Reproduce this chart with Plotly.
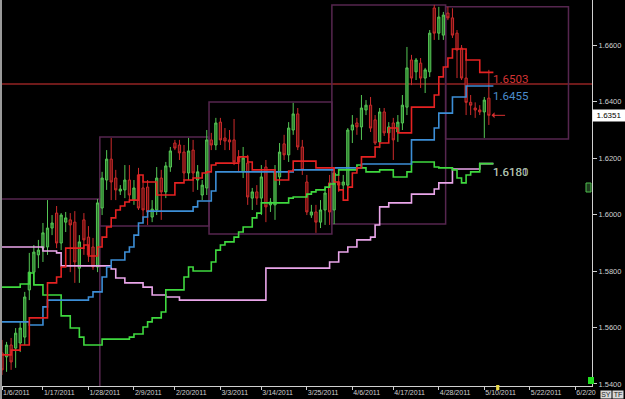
import pandas as pd
import plotly.graph_objects as go

# ---------------- data ----------------
all_days = pd.date_range("2011-01-06", "2011-06-10", freq="D")
bar_dates = [d for d in all_days if d.weekday() != 5]  # Sun-Fri daily FX bars

opens = [1.5510, 1.5496, 1.5538, 1.5527, 1.5545, 1.5566, 1.5733, 1.5796, 1.5857, 1.5881,
         1.5885, 1.5952, 1.6005, 1.5899, 1.5973, 1.5981, 1.5973, 1.5810, 1.5981, 1.5920,
         1.5885, 1.5814, 1.6023, 1.6122, 1.6196, 1.6129, 1.6083, 1.6087, 1.6122, 1.6051,
         1.6140, 1.6094, 1.6097, 1.5991, 1.6016, 1.6129, 1.6080, 1.6168, 1.6253, 1.6246,
         1.6221, 1.6147, 1.6228, 1.6122, 1.6069, 1.6094, 1.6264, 1.6246, 1.6327, 1.6271,
         1.6264, 1.6264, 1.6204, 1.6151, 1.6182, 1.6058, 1.6080, 1.6058, 1.6168, 1.6034,
         1.6034, 1.6133, 1.6250, 1.6211, 1.6299, 1.6356, 1.6239, 1.6115, 1.5998, 1.6009,
         1.5973, 1.6016, 1.6112, 1.6016, 1.6115, 1.6104, 1.6104, 1.6299, 1.6324, 1.6310,
         1.6370, 1.6387, 1.6335, 1.6257, 1.6363, 1.6289, 1.6324, 1.6292, 1.6324, 1.6380,
         1.6547, 1.6505, 1.6536, 1.6483, 1.6505, 1.6731, 1.6642, 1.6635, 1.6713, 1.6696,
         1.6642, 1.6589, 1.6483, 1.6397, 1.6377, 1.6370, 1.6363, 1.6412]
highs = [1.5556, 1.5549, 1.5563, 1.5598, 1.5620, 1.5726, 1.5864, 1.5892, 1.5910, 1.5970,
         1.6051, 1.5998, 1.6030, 1.6005, 1.6009, 1.6005, 1.6012, 1.5927, 1.6005, 1.5959,
         1.5917, 1.6055, 1.6151, 1.6228, 1.6271, 1.6158, 1.6104, 1.6175, 1.6175, 1.6122,
         1.6165, 1.6122, 1.6122, 1.6051, 1.6168, 1.6158, 1.6186, 1.6239, 1.6264, 1.6264,
         1.6246, 1.6271, 1.6264, 1.6175, 1.6122, 1.6299, 1.6289, 1.6342, 1.6342, 1.6306,
         1.6299, 1.6338, 1.6228, 1.6239, 1.6211, 1.6094, 1.6104, 1.6175, 1.6193, 1.6058,
         1.6175, 1.6253, 1.6282, 1.6327, 1.6395, 1.6377, 1.6264, 1.6140, 1.6034, 1.6034,
         1.6051, 1.6094, 1.6140, 1.6165, 1.6140, 1.6140, 1.6306, 1.6352, 1.6342, 1.6423,
         1.6405, 1.6416, 1.6352, 1.6377, 1.6377, 1.6327, 1.6342, 1.6352, 1.6423, 1.6593,
         1.6565, 1.6554, 1.6554, 1.6519, 1.6653, 1.6742, 1.6735, 1.6717, 1.6735, 1.6730,
         1.6653, 1.6600, 1.6572, 1.6423, 1.6397, 1.6387, 1.6416, 1.6512]
lows = [1.5432, 1.5443, 1.5450, 1.5457, 1.5513, 1.5538, 1.5697, 1.5751, 1.5810, 1.5832,
        1.5857, 1.5927, 1.5881, 1.5874, 1.5938, 1.5796, 1.5758, 1.5758, 1.5857, 1.5832,
        1.5804, 1.5796, 1.5998, 1.6087, 1.6051, 1.6051, 1.6069, 1.6058, 1.6051, 1.6034,
        1.6016, 1.5981, 1.5963, 1.5973, 1.5998, 1.5981, 1.6058, 1.6151, 1.6228, 1.6193,
        1.6122, 1.6122, 1.6080, 1.6087, 1.6051, 1.6069, 1.6228, 1.6228, 1.6246, 1.6228,
        1.6228, 1.6175, 1.6151, 1.6129, 1.6034, 1.6016, 1.6034, 1.5998, 1.5973, 1.6009,
        1.5981, 1.6104, 1.6193, 1.6186, 1.6282, 1.6228, 1.6140, 1.5998, 1.5988, 1.5935,
        1.5952, 1.5963, 1.5963, 1.5966, 1.6080, 1.6087, 1.6087, 1.6253, 1.6282, 1.6264,
        1.6352, 1.6292, 1.6246, 1.6235, 1.6278, 1.6271, 1.6193, 1.6257, 1.6299, 1.6352,
        1.6458, 1.6476, 1.6448, 1.6430, 1.6487, 1.6618, 1.6618, 1.6618, 1.6688, 1.6625,
        1.6483, 1.6476, 1.6352, 1.6352, 1.6342, 1.6352, 1.6271, 1.6317]
closes = [1.5450, 1.5538, 1.5478, 1.5580, 1.5598, 1.5708, 1.5796, 1.5867, 1.5874, 1.5935,
          1.5952, 1.5970, 1.5899, 1.5998, 1.5988, 1.5963, 1.5832, 1.5903, 1.5910, 1.5857,
          1.5814, 1.6041, 1.6129, 1.6196, 1.6115, 1.6087, 1.6090, 1.6122, 1.6069, 1.6094,
          1.6023, 1.6016, 1.6009, 1.6019, 1.6129, 1.6080, 1.6172, 1.6225, 1.6235, 1.6218,
          1.6147, 1.6225, 1.6147, 1.6151, 1.6104, 1.6264, 1.6246, 1.6324, 1.6264, 1.6260,
          1.6257, 1.6186, 1.6186, 1.6200, 1.6062, 1.6080, 1.6058, 1.6133, 1.6027, 1.6044,
          1.6151, 1.6221, 1.6211, 1.6306, 1.6356, 1.6239, 1.6158, 1.6009, 1.6009, 1.5973,
          1.6016, 1.6076, 1.6009, 1.6147, 1.6104, 1.6115, 1.6299, 1.6317, 1.6310, 1.6377,
          1.6387, 1.6306, 1.6253, 1.6363, 1.6289, 1.6310, 1.6264, 1.6327, 1.6387, 1.6519,
          1.6483, 1.6547, 1.6483, 1.6512, 1.6642, 1.6642, 1.6699, 1.6706, 1.6696, 1.6635,
          1.6582, 1.6483, 1.6397, 1.6387, 1.6370, 1.6363, 1.6405, 1.6351]

# step lines: bar index where a new level starts, and that level
red_at = [0, 2, 4, 6, 10, 12, 13, 14, 18, 19, 21, 22, 23, 24, 25, 26, 27, 28, 30, 31, 34, 38, 40,
          42, 44, 45, 46, 47, 52, 54, 55, 60, 63, 64, 69, 73, 74, 75, 76, 77, 78, 79, 82, 83,
          85, 87, 90, 95, 96, 97, 98, 99, 102, 105]
red_val = [1.5503, 1.5520, 1.5538, 1.5634, 1.5758, 1.5779, 1.5814, 1.5881, 1.5892, 1.5853,
           1.5885, 1.5920, 1.5956, 1.5988, 1.6016, 1.6030, 1.6044, 1.6051, 1.6140, 1.6115,
           1.6069, 1.6112, 1.6122, 1.6129, 1.6147, 1.6151, 1.6175, 1.6182, 1.6204, 1.6186,
           1.6158, 1.6122, 1.6154, 1.6189, 1.6165, 1.6115, 1.6087, 1.6051, 1.6097, 1.6147,
           1.6165, 1.6204, 1.6239, 1.6253, 1.6306, 1.6289, 1.6380, 1.6423, 1.6487, 1.6522,
           1.6554, 1.6586, 1.6547, 1.6503]
blue_at = [0, 6, 9, 10, 19, 20, 22, 23, 24, 27, 28, 29, 30, 31, 32, 42, 43, 46, 47, 64, 73, 79,
           90, 95, 96, 99, 102]
blue_val = [1.5620, 1.5609, 1.5673, 1.5697, 1.5708, 1.5726, 1.5779, 1.5814, 1.5839, 1.5867,
            1.5885, 1.5927, 1.5970, 1.5991, 1.6012, 1.6027, 1.6048, 1.6083, 1.6151, 1.6158,
            1.6165, 1.6179, 1.6264, 1.6306, 1.6359, 1.6416, 1.6455]
green_at = [0, 4, 6, 7, 9, 13, 15, 17, 18, 22, 28, 29, 31, 32, 33, 35, 36, 40, 41, 42, 46, 47,
            48, 49, 51, 52, 53, 55, 56, 57, 63, 64, 67, 68, 69, 71, 72, 73, 74, 78, 79, 80, 83,
            86, 89, 90, 95, 96, 99, 100, 101, 102, 103, 105]
green_val = [1.5743, 1.5754, 1.5793, 1.5751, 1.5715, 1.5641, 1.5598, 1.5566, 1.5538, 1.5559,
             1.5566, 1.5577, 1.5602, 1.5620, 1.5634, 1.5655, 1.5733, 1.5779, 1.5814, 1.5800,
             1.5832, 1.5874, 1.5892, 1.5903, 1.5920, 1.5938, 1.5956, 1.5988, 1.6005, 1.6041,
             1.6058, 1.6062, 1.6072, 1.6080, 1.6087, 1.6097, 1.6108, 1.6140, 1.6158, 1.6175,
             1.6165, 1.6151, 1.6158, 1.6133, 1.6151, 1.6186, 1.6168, 1.6165, 1.6158, 1.6129,
             1.6112, 1.6140, 1.6151, 1.6180]
pink_at = [0, 9, 12, 13, 24, 25, 27, 31, 33, 36, 39, 58, 72, 74, 76, 78, 81, 82, 83, 85, 90,
           95, 96, 99, 105]
pink_val = [1.5885, 1.5871, 1.5864, 1.5818, 1.5807, 1.5775, 1.5758, 1.5743, 1.5715, 1.5708,
            1.5697, 1.5810, 1.5832, 1.5867, 1.5885, 1.5910, 1.5920, 1.5963, 1.6027, 1.6041,
            1.6072, 1.6090, 1.6112, 1.6161, 1.6180]

# monthly range boxes
box_months = ["2011-01", "2011-02", "2011-03", "2011-04", "2011-05"]
box_high = [1.6055, 1.6274, 1.6398, 1.6742, 1.6735]
box_low = [1.5300, 1.5959, 1.5931, 1.5966, 1.6267]

level_line = 1.6462
last_price = 1.6351

tick_dates = ["2011-01-06", "2011-01-17", "2011-01-28", "2011-02-09", "2011-02-20", "2011-03-03",
              "2011-03-14", "2011-03-25", "2011-04-06", "2011-04-17", "2011-04-28", "2011-05-10",
              "2011-05-22", "2011-06-02"]
tick_text = ["1/6/2011", "1/17/2011", "1/28/2011", "2/9/2011", "2/20/2011", "3/3/2011",
             "3/14/2011", "3/25/2011", "4/6/2011", "4/17/2011", "4/28/2011", "5/10/2011",
             "5/22/2011", "6/2/20"]
y_ticks = [1.54, 1.56, 1.58, 1.60, 1.62, 1.64, 1.66]

# ---------------- figure ----------------
N = len(opens)
idx = list(range(N))
date_pos = {d.strftime("%Y-%m-%d"): i for i, d in enumerate(bar_dates)}
tickvals = [date_pos[d] for d in tick_dates]

fig = go.Figure()

fig.add_trace(go.Candlestick(
    x=idx, open=opens, high=highs, low=lows, close=closes,
    increasing=dict(line=dict(color="#55c655", width=1), fillcolor="#2c7a2c"),
    decreasing=dict(line=dict(color="#cc2b2b", width=1), fillcolor="#5e0f0f"),
    whiskerwidth=0, showlegend=False, hoverinfo="skip"))

def step(at, val, color):
    fig.add_trace(go.Scatter(x=at + [N], y=val + [val[-1]], mode="lines",
                             line=dict(color=color, width=1.6, shape="hv"),
                             showlegend=False, hoverinfo="skip"))

step(pink_at, pink_val, "#eaa6ea")
step(green_at, green_val, "#3fd93f")
step(blue_at, blue_val, "#3c8ed6")
step(red_at, red_val, "#e52222")

shapes = []
# monthly boxes
month_of = [d.strftime("%Y-%m") for d in bar_dates]
starts = []
for m in box_months + ["2011-06"]:
    starts.append(month_of.index(m) - 0.5 if m in month_of else -0.5)
for i, m in enumerate(box_months):
    shapes.append(dict(type="rect", xref="x", yref="y", x0=starts[i], x1=starts[i + 1],
                       y0=box_low[i], y1=box_high[i], line=dict(color="#56264f", width=1.5),
                       layer="below"))
shapes.append(dict(type="line", xref="paper", yref="y", x0=0, x1=1, y0=level_line, y1=level_line,
                   line=dict(color="#6e1a1a", width=2), layer="below"))
# left grey frame strip
shapes.append(dict(type="rect", xref="paper", yref="paper", x0=0, x1=2 / 592, y0=-0.04, y1=1,
                   line=dict(width=0), fillcolor="#9a9a9a"))
# green square at lower right of plot
shapes.append(dict(type="rect", xref="paper", yref="paper", x0=588 / 592, x1=594 / 592,
                   y0=2 / 386, y1=9 / 386, line=dict(width=0), fillcolor="#22dd22"))
# yellow current-bar marker on the time axis
shapes.append(dict(type="rect", xref="x", yref="paper", x0=N + 0.6, x1=N + 1.3,
                   y0=-4 / 386, y1=1 / 386, line=dict(width=0), fillcolor="#e8d84a"))
# small 'D' marker on the right edge
shapes.append(dict(type="rect", xref="paper", yref="paper", x0=586 / 592, x1=591 / 592,
                   y0=(386 - 192) / 386, y1=(386 - 183) / 386,
                   line=dict(color="#4fbf4f", width=1), fillcolor="#1d3a1d"))

annotations = []
lab_font = "Roboto, DejaVu Sans Mono, monospace"
annotations.append(dict(x=N - 0.4, y=red_val[-1], xref="x", yref="y", text="1.6503",
                        showarrow=False, xanchor="left", yanchor="middle", yshift=-7,
                        borderpad=0, font=dict(family=lab_font, size=11.5, color="#d43434")))
annotations.append(dict(x=N - 0.4, y=blue_val[-1], xref="x", yref="y", text="1.6455",
                        showarrow=False, xanchor="left", yanchor="middle", yshift=-10,
                        borderpad=0, font=dict(family=lab_font, size=11.5, color="#4b8dcc")))
annotations.append(dict(x=N - 0.4, y=pink_val[-1], xref="x", yref="y", text="1.6181",
                        showarrow=False, xanchor="left", yanchor="middle", yshift=-8,
                        borderpad=0, font=dict(family=lab_font, size=11.5, color="#c99ac9")))
annotations.append(dict(x=N - 0.2, y=green_val[-1], xref="x", yref="y", text="1.6180",
                        showarrow=False, xanchor="left", yanchor="middle", yshift=-8,
                        borderpad=0, font=dict(family=lab_font, size=11.5, color="#9cc29c")))
# arrow pointing at last close
annotations.append(dict(x=N - 0.4, y=last_price, xref="x", yref="y", text="", showarrow=True,
                        ax=15, ay=0, arrowhead=1, arrowsize=1, arrowwidth=1,
                        arrowcolor="#d83030"))
# last price box on the axis
annotations.append(dict(x=1.0, y=last_price, xref="paper", yref="y", text="1.6351",
                        showarrow=False, xanchor="left", yanchor="middle", bgcolor="#ffffff",
                        borderpad=1, width=30, font=dict(family="Liberation Sans", size=8,
                                                         color="#000000")))
# SY / TF buttons
for t, px in (("SY", 606), ("TF", 618)):
    annotations.append(dict(x=px / 592, y=-8 / 386, xref="paper", yref="paper", text=t,
                            showarrow=False, xanchor="center", yanchor="middle",
                            bgcolor="#d9d9d9", borderpad=0, width=10,
                            font=dict(family="Liberation Sans", size=7, color="#222222")))

fig.update_layout(
    width=625, height=399,
    margin=dict(l=0, r=33, t=0, b=13),
    paper_bgcolor="#000000", plot_bgcolor="#000000",
    shapes=shapes, annotations=annotations,
    xaxis=dict(range=[-0.44, 129.67], rangeslider=dict(visible=False), showgrid=False,
               zeroline=False, showline=True, linecolor="#d0d0d0", linewidth=1,
               ticks="outside", ticklen=3, tickcolor="#d0d0d0",
               tickvals=tickvals, ticktext=tick_text, ticklabelposition="outside right",
               tickfont=dict(family="Liberation Sans", size=7, color="#d0d0d0")),
    yaxis=dict(range=[1.53929, 1.67593], side="right", showgrid=False, zeroline=False,
               showline=True, linecolor="#d0d0d0", linewidth=1, ticks="outside", ticklen=4,
               tickcolor="#d0d0d0", tickvals=y_ticks, tickformat=".4f",
               tickfont=dict(family="Liberation Sans", size=7.5, color="#d0d0d0")),
)

fig.write_html("out.html")
